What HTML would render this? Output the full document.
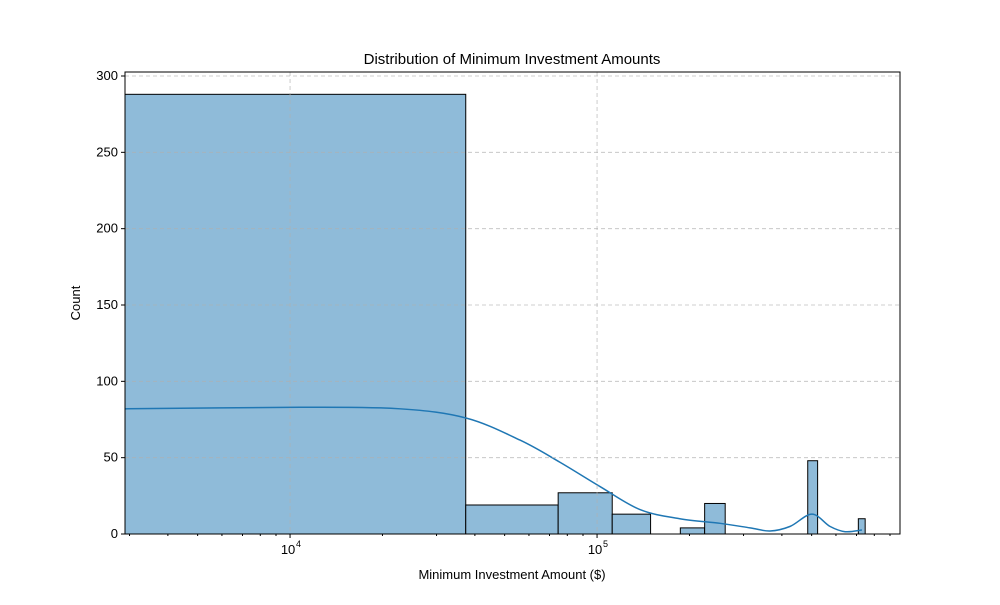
<!DOCTYPE html>
<html><head><meta charset="utf-8"><style>
body{margin:0;background:#fff;font-family:"Liberation Sans","DejaVu Sans",sans-serif}
svg text{font-family:"Liberation Sans","DejaVu Sans",sans-serif;fill:#000}
</style></head><body>
<svg id="c" width="1000" height="600"></svg>
<script>
const binWidth = 37350;
const binCounts = [288,19,27,13,0,4,20,0,0,0,0,0,0,48,0,0,0,0,0,10];
const kdeX = [2900,10780,22800,37400,56100,75700,102400,138000,186000,251600,315000,366000,425600,501000,573500,643000,729000];
const kdeY = [82,83,82,76,61.5,47,31,16,10,7,4,2,5,13,5,1.5,2.6];
const yTicks = [0,50,100,150,200,250,300];
const xMajor = [4,5];

const L=125,R=900,T=72,B=534;
const xlo=Math.log10(2900), xhi=Math.log10(970000);
const xs=v=>L+(Math.log10(v)-xlo)/(xhi-xlo)*(R-L);
const ys=v=>B-v*(B-76)/300;
const svg=document.getElementById('c');
const NS='http://www.w3.org/2000/svg';
function mk(t,a,p){const e=document.createElementNS(NS,t);for(const k in a)e.setAttribute(k,a[k]);(p||svg).appendChild(e);return e;}
const clip=mk('clipPath',{id:'cp'});mk('rect',{x:L,y:T,width:R-L,height:B-T},clip);
const g=mk('g',{'clip-path':'url(#cp)'});
binCounts.forEach((c,i)=>{
  if(c<=0)return;
  const x0=xs(Math.max(i*binWidth,1)),x1=xs((i+1)*binWidth);
  const r=mk('rect',{x:x0,y:ys(c),width:x1-x0,height:B-ys(c),fill:'#8fbbd9',stroke:'#000','stroke-width':1},g);
  
  
});
// grid
yTicks.forEach(t=>{const l=mk('line',{x1:L,x2:R,y1:ys(t),y2:ys(t),stroke:'#b0b0b0','stroke-width':0.8,'stroke-dasharray':'4,3',opacity:0.8});
  });
xMajor.forEach(e=>{const x=xs(Math.pow(10,e));const l=mk('line',{x1:x,x2:x,y1:T,y2:B,stroke:'#b0b0b0','stroke-width':0.8,'stroke-dasharray':'4,3',opacity:0.8});
  });
// kde
const kd=kdeX.map((v,i)=>[xs(v),ys(kdeY[i])]);
let d='M'+kd[0][0]+','+kd[0][1];
for(let i=0;i<kd.length-1;i++){const p0=kd[i-1]||kd[i],p1=kd[i],p2=kd[i+1],p3=kd[i+2]||p2;
  d+=` C${p1[0]+(p2[0]-p0[0])/6},${p1[1]+(p2[1]-p0[1])/6} ${p2[0]-(p3[0]-p1[0])/6},${p2[1]-(p3[1]-p1[1])/6} ${p2[0]},${p2[1]}`;}
const kl=mk('path',{d:d,fill:'none',stroke:'#1f77b4','stroke-width':1.5},g);

// frame
const fr=mk('rect',{x:L,y:T,width:R-L,height:B-T,fill:'none',stroke:'#000','stroke-width':1});

// y ticks
yTicks.forEach(t=>{const y=ys(t);mk('line',{x1:L-4,x2:L,y1:y,y2:y,stroke:'#000'});
  const tx=mk('text',{x:L-7,y:y+4,'text-anchor':'end','font-size':13});tx.textContent=t;
  });
// x ticks
for(let e=3;e<=5;e++)for(let m=1;m<=9;m++){const v=m*Math.pow(10,e);const x=xs(v);if(x<L||x>R)continue;
  mk('line',{x1:x,x2:x,y1:B,y2:B+(m===1?4:2),stroke:'#000'});}
xMajor.forEach(e=>{const x=xs(Math.pow(10,e));
  const tx=mk('text',{x:x-2,y:B+20,'text-anchor':'middle','font-size':13});tx.textContent='10';
  
  const sp=mk('text',{x:x+6,y:B+13,'font-size':9});sp.textContent=e;});
const t1=mk('text',{x:512,y:64,'text-anchor':'middle','font-size':15});t1.textContent='Distribution of Minimum Investment Amounts';

const t2=mk('text',{x:512,y:579,'text-anchor':'middle','font-size':13});t2.textContent='Minimum Investment Amount ($)';

const t3=mk('text',{x:80,y:303,'text-anchor':'middle','font-size':13,transform:'rotate(-90 80 303)'});t3.textContent='Count';

</script>
</body></html>
